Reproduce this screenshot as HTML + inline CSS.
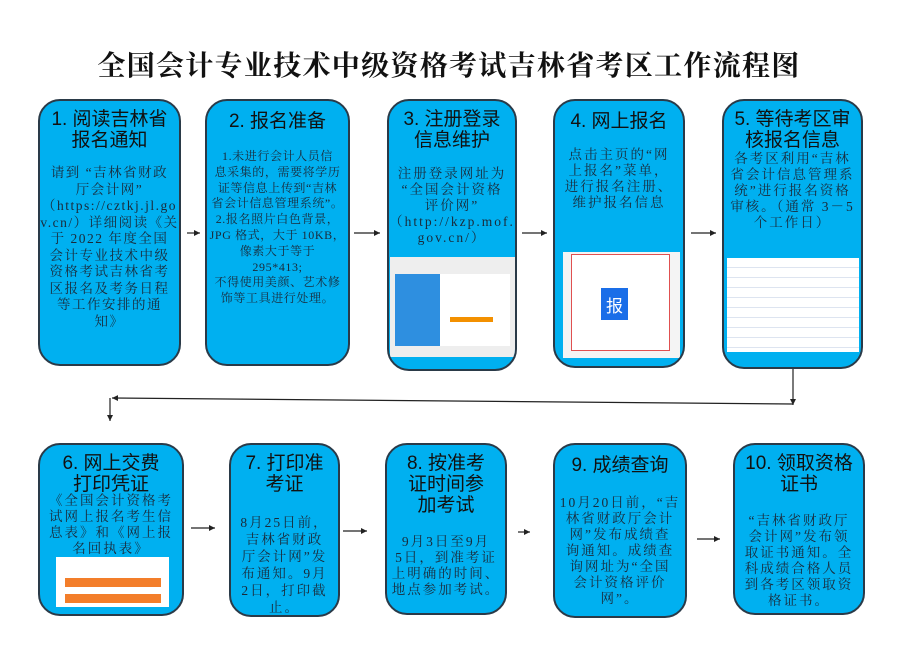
<!DOCTYPE html>
<html><head><meta charset="utf-8"><style>
body{margin:0;width:898px;height:657px;background:#fff;position:relative;overflow:hidden;font-family:"Liberation Serif","Noto Serif CJK SC",serif;}
.t{position:absolute;left:0;width:898px;top:44px;text-align:center;font-family:"Noto Serif CJK SC",serif;font-weight:bold;font-size:28px;color:#111;letter-spacing:1.3px}
.b{position:absolute;background:#00b0f0;border:2px solid #2a3a48;border-radius:22px;box-sizing:border-box;text-align:center;color:#1a1a1a;overflow:hidden}
.h{font-family:"Liberation Sans","Noto Sans CJK SC",sans-serif;font-size:19px;line-height:21px;color:#111;margin-top:8px}
.p{position:absolute;left:-10px;right:-10px;font-size:13.5px;line-height:16.5px;color:#1a2a3a;letter-spacing:2px;white-space:nowrap}
.img{position:absolute;background:#fff}
svg{position:absolute;left:0;top:0}
</style></head><body>
<div class="t">全国会计专业技术中级资格考试吉林省考区工作流程图</div>

<div class="b" style="left:38px;top:99px;width:143px;height:267px">
<div class="h">1. 阅读吉林省<br>报名通知</div>
<div class="p" style="top:64px;letter-spacing:1.5px">请到 “吉林省财政<br>厅会计网”<br>（https://cztkj.jl.go<br>v.cn/）详细阅读《关<br>于 2022 年度全国<br>会计专业技术中级<br>资格考试吉林省考<br>区报名及考务日程<br>等工作安排的通<br>知》</div></div>

<div class="b" style="left:205px;top:99px;width:145px;height:267px">
<div class="h" style="margin-top:10px">2. 报名准备</div>
<div class="p" style="top:48px;font-size:12px;line-height:15.8px;letter-spacing:0.6px">1.未进行会计人员信<br>息采集的，需要将学历<br>证等信息上传到“吉林<br>省会计信息管理系统”。<br>2.报名照片白色背景，<br>JPG 格式，大于 10KB，<br>像素大于等于<br>295*413;<br>不得使用美颜、艺术修<br>饰等工具进行处理。</div></div>

<div class="b" style="left:387px;top:99px;width:130px;height:272px">
<div class="h">3. 注册登录<br>信息维护</div>
<div class="p" style="top:65px;line-height:16px">注册登录网址为<br>“全国会计资格<br>评价网”<br>（http://kzp.mof.<br>gov.cn/）</div>
<div class="img" style="left:1px;top:156px;width:125px;height:100px;background:#eee">
<div style="position:absolute;left:5px;top:17px;width:45px;height:72px;background:#2e8fe0"></div>
<div style="position:absolute;left:50px;top:17px;width:70px;height:72px;background:#fff"></div>
<div style="position:absolute;left:60px;top:60px;width:43px;height:5px;background:#f39000"></div></div></div>

<div class="b" style="left:553px;top:99px;width:132px;height:269px">
<div class="h" style="margin-top:10px">4. 网上报名</div>
<div class="p" style="top:46px;line-height:16px">点击主页的“网<br>上报名”菜单，<br>进行报名注册、<br>维护报名信息</div>
<div class="img" style="left:8px;top:151px;width:117px;height:106px;background:#f4f4f4">
<div style="position:absolute;left:8px;top:2px;width:97px;height:95px;border:1px solid #e05050;background:#fff"></div>
<div style="position:absolute;left:38px;top:36px;width:27px;height:32px;background:#1a6ee8;color:#fff;font-size:17px;line-height:34px;font-family:'Noto Sans CJK SC',sans-serif">报</div></div></div>

<div class="b" style="left:722px;top:99px;width:141px;height:270px">
<div class="h">5. 等待考区审<br>核报名信息</div>
<div class="p" style="top:50px;line-height:16px">各考区利用“吉林<br>省会计信息管理系<br>统”进行报名资格<br>审核。（通常 3－5<br>个工作日）</div>
<div class="img" style="left:3px;top:157px;width:132px;height:94px;background:repeating-linear-gradient(#fff 0 9px,#dde4f0 9px 10px)"></div></div>

<div class="b" style="left:38px;top:443px;width:146px;height:173px">
<div class="h">6. 网上交费<br>打印凭证</div>
<div class="p" style="top:48px;line-height:16px">《全国会计资格考<br>试网上报名考生信<br>息表》和《网上报<br>名回执表》</div>
<div class="img" style="left:16px;top:112px;width:113px;height:50px">
<div style="position:absolute;left:9px;top:21px;width:96px;height:9px;background:#f37e2a"></div>
<div style="position:absolute;left:9px;top:37px;width:96px;height:9px;background:#f37e2a"></div></div></div>

<div class="b" style="left:229px;top:443px;width:111px;height:174px">
<div class="h">7. 打印准<br>考证</div>
<div class="p" style="top:69px;line-height:17px">8月25日前，<br>吉林省财政<br>厅会计网”发<br>布通知。9月<br>2日，打印截<br>止。</div></div>

<div class="b" style="left:385px;top:443px;width:122px;height:172px">
<div class="h">8. 按准考<br>证时间参<br>加考试</div>
<div class="p" style="top:89px;line-height:16px">9月3日至9月<br>5日，到准考证<br>上明确的时间、<br>地点参加考试。</div></div>

<div class="b" style="left:553px;top:443px;width:134px;height:175px">
<div class="h" style="margin-top:10px">9. 成绩查询</div>
<div class="p" style="top:50px;line-height:16px">10月20日前，“吉<br>林省财政厅会计<br>网”发布成绩查<br>询通知。成绩查<br>询网址为“全国<br>会计资格评价<br>网”。</div></div>

<div class="b" style="left:733px;top:443px;width:132px;height:172px">
<div class="h">10. 领取资格<br>证书</div>
<div class="p" style="top:68px;line-height:16px">“吉林省财政厅<br>会计网”发布领<br>取证书通知。全<br>科成绩合格人员<br>到各考区领取资<br>格证书。</div></div>

<svg width="898" height="657">
<defs><marker id="a" markerWidth="6" markerHeight="6" refX="5" refY="3" orient="auto"><path d="M0,0.5 L5,3 L0,5.5 z" fill="#222"/></marker></defs>
<g stroke="#222" stroke-width="1.2" fill="none" marker-end="url(#a)">
<line x1="187" y1="233" x2="200" y2="233"/>
<line x1="354" y1="233" x2="380" y2="233"/>
<line x1="522" y1="233" x2="547" y2="233"/>
<line x1="691" y1="233" x2="716" y2="233"/>
<line x1="793" y1="369" x2="793" y2="405"/>
<line x1="793" y1="404" x2="112" y2="398"/>
<line x1="110" y1="398" x2="110" y2="421"/>
<line x1="191" y1="528" x2="215" y2="528"/>
<line x1="343" y1="531" x2="367" y2="531"/>
<line x1="518" y1="532" x2="530" y2="532"/>
<line x1="697" y1="539" x2="720" y2="539"/>
</g></svg>
</body></html>
